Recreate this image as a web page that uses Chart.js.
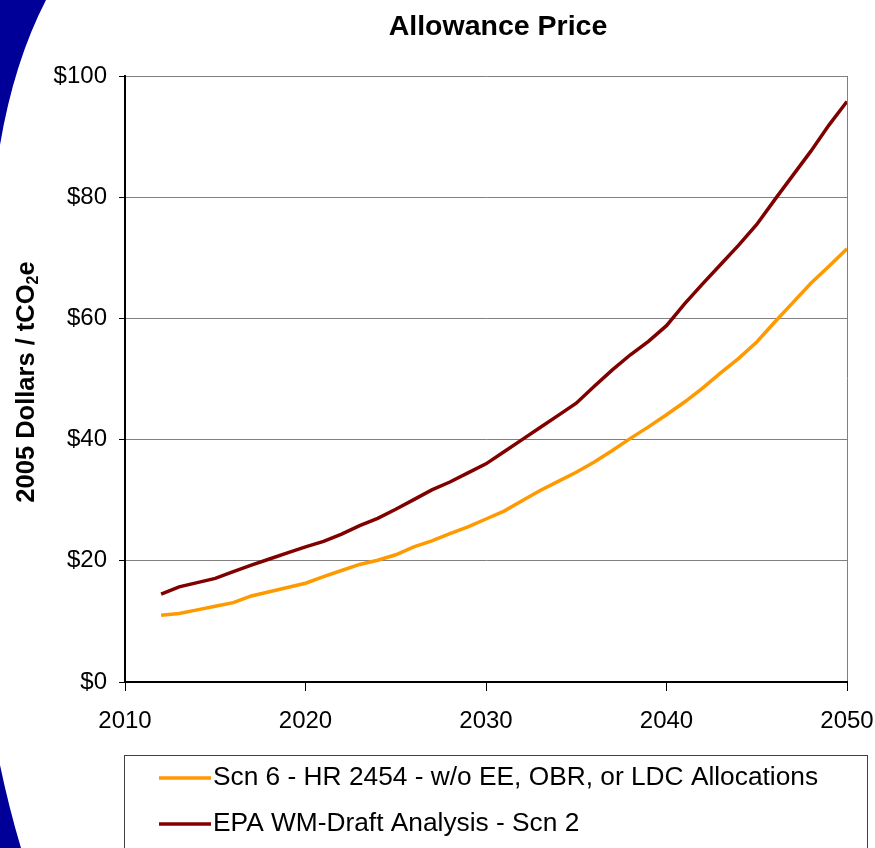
<!DOCTYPE html>
<html>
<head>
<meta charset="utf-8">
<script src="https://cdn.jsdelivr.net/npm/chart.js@4.4.1/dist/chart.umd.min.js"></script>
<style>
  html, body { margin: 0; padding: 0; background: #fff; }
  #wrap { width: 875px; height: 848px; position: relative; overflow: hidden; }
</style>
</head>
<body>
<div id="wrap"><canvas id="priceChart" width="875" height="848"></canvas></div>
<script>
const years = [2012, 2013, 2014, 2015, 2016, 2017, 2018, 2019, 2020, 2021,
  2022, 2023, 2024, 2025, 2026, 2027, 2028, 2029, 2030, 2031,
  2032, 2033, 2034, 2035, 2036, 2037, 2038, 2039, 2040, 2041,
  2042, 2043, 2044, 2045, 2046, 2047, 2048, 2049, 2050];

const scn6Prices = [11.0, 11.3, 11.9, 12.5, 13.1, 14.2, 14.9, 15.6, 16.3, 17.4,
  18.4, 19.4, 20.1, 21.0, 22.3, 23.3, 24.5, 25.6, 26.9, 28.2,
  29.9, 31.6, 33.1, 34.6, 36.3, 38.2, 40.2, 42.1, 44.1, 46.2,
  48.5, 51.0, 53.4, 56.1, 59.4, 62.6, 65.8, 68.6, 71.5];

const epaPrices = [14.5, 15.7, 16.4, 17.1, 18.2, 19.3, 20.3, 21.3, 22.3, 23.2,
  24.4, 25.8, 27.0, 28.5, 30.1, 31.7, 33.0, 34.5, 36.0, 38.0,
  40.0, 42.0, 44.0, 46.0, 48.8, 51.5, 54.0, 56.2, 58.8, 62.4,
  65.7, 68.9, 72.1, 75.5, 79.6, 83.6, 87.6, 91.9, 95.8];

const seriesNames = [
  'Scn 6 - HR 2454 - w/o EE, OBR, or LDC Allocations',
  'EPA WM-Draft Analysis - Scn 2'
];
const xTicks = [2010, 2020, 2030, 2040, 2050];
const yTicks = [0, 20, 40, 60, 80, 100];

const chartTitle = 'Allowance Price';
const yTitleParts = ['2005 Dollars / tCO', '2', 'e'];

const FONT = "'Liberation Sans', Arial, Helvetica, sans-serif";
Chart.defaults.font.family = FONT;
Chart.defaults.color = '#000';

const toPoints = vals => years.map((yr, i) => ({ x: yr, y: vals[i] }));

// background swoosh, title, axis title and boxed legend
const decor = {
  id: 'decor',
  beforeDraw(chart) {
    const ctx = chart.ctx;
    ctx.save();
    ctx.fillStyle = '#000099';
    ctx.beginPath();
    ctx.moveTo(0, 0);
    ctx.lineTo(46, 0);
    ctx.quadraticCurveTo(14, 62, 0, 145);
    ctx.closePath();
    ctx.fill();
    ctx.beginPath();
    ctx.moveTo(0, 765);
    ctx.quadraticCurveTo(9, 808, 21, 848);
    ctx.lineTo(0, 848);
    ctx.closePath();
    ctx.fill();
    ctx.restore();
  },
  afterDraw(chart) {
    const ctx = chart.ctx;
    const area = chart.chartArea;
    ctx.save();

    // title
    ctx.fillStyle = '#000';
    ctx.font = 'bold 28.5px ' + FONT;
    ctx.textAlign = 'center';
    ctx.textBaseline = 'alphabetic';
    ctx.fillText(chartTitle, 498, 35);

    // y axis title with subscript
    ctx.translate(34, (area.top + area.bottom) / 2 + 3);
    ctx.rotate(-Math.PI / 2);
    const big = 'bold 25.5px ' + FONT, small = 'bold 16px ' + FONT;
    ctx.font = big;
    const w0 = ctx.measureText(yTitleParts[0]).width;
    const w2 = ctx.measureText(yTitleParts[2]).width;
    ctx.font = small;
    const w1 = ctx.measureText(yTitleParts[1]).width;
    let x = -(w0 + w1 + w2) / 2;
    ctx.textAlign = 'left';
    ctx.textBaseline = 'alphabetic';
    ctx.font = big;
    ctx.fillText(yTitleParts[0], x, 0);
    x += w0;
    ctx.font = small;
    ctx.fillText(yTitleParts[1], x, 4);
    x += w1;
    ctx.font = big;
    ctx.fillText(yTitleParts[2], x, 0);
    ctx.setTransform(1, 0, 0, 1, 0, 0);

    // legend box
    ctx.strokeStyle = '#404040';
    ctx.lineWidth = 1;
    ctx.strokeRect(124.5, 755.5, 743, 120);
    ctx.font = '26.3px ' + FONT;
    ctx.textBaseline = 'middle';
    ctx.textAlign = 'left';
    chart.data.datasets.forEach((ds, i) => {
      const rowY = 778 + i * 46;
      ctx.strokeStyle = ds.borderColor;
      ctx.lineWidth = 3.5;
      ctx.beginPath();
      ctx.moveTo(159, rowY);
      ctx.lineTo(211, rowY);
      ctx.stroke();
      ctx.fillStyle = '#000';
      ctx.fillText(ds.label, 213, rowY);
    });
    ctx.restore();
  }
};

new Chart(document.getElementById('priceChart'), {
  type: 'line',
  data: {
    datasets: [{
      label: seriesNames[0],
      data: toPoints(scn6Prices),
      borderColor: '#FF9900',
      borderWidth: 3.5,
      pointRadius: 0,
      tension: 0,
      fill: false
    }, {
      label: seriesNames[1],
      data: toPoints(epaPrices),
      borderColor: '#800000',
      borderWidth: 3.5,
      pointRadius: 0,
      tension: 0,
      fill: false
    }]
  },
  options: {
    responsive: false,
    animation: false,
    layout: { padding: { top: 76, right: 28, left: 0, bottom: 0 } },
    plugins: {
      legend: { display: false },
      tooltip: { enabled: false },
      title: { display: false }
    },
    scales: {
      x: {
        type: 'linear',
        min: xTicks[0],
        max: xTicks[xTicks.length - 1],
        afterBuildTicks: s => { s.ticks = xTicks.map(v => ({ value: v })); },
        afterFit: s => { s.height = 166; s.paddingLeft = 0; s.paddingRight = 0; },
        ticks: {
          font: { size: 24 },
          color: '#000',
          padding: 16,
          maxRotation: 0,
          callback: v => String(v)
        },
        grid: {
          drawOnChartArea: true,
          color: c => (c.tick && c.tick.value === 2050) ? '#808080' : 'rgba(0,0,0,0)',
          tickColor: '#000',
          tickLength: 9,
          lineWidth: 1
        },
        border: { color: '#000', width: 2 }
      },
      y: {
        min: yTicks[0],
        max: yTicks[yTicks.length - 1],
        afterBuildTicks: s => { s.ticks = yTicks.map(v => ({ value: v })); },
        afterFit: s => { s.width = 125; },
        ticks: {
          font: { size: 24 },
          color: '#000',
          padding: 12,
          callback: v => '$' + v
        },
        grid: {
          color: '#808080',
          tickColor: '#000',
          tickLength: 6,
          lineWidth: 1
        },
        border: { color: '#000', width: 2 }
      }
    }
  },
  plugins: [decor]
});
</script>
</body>
</html>
